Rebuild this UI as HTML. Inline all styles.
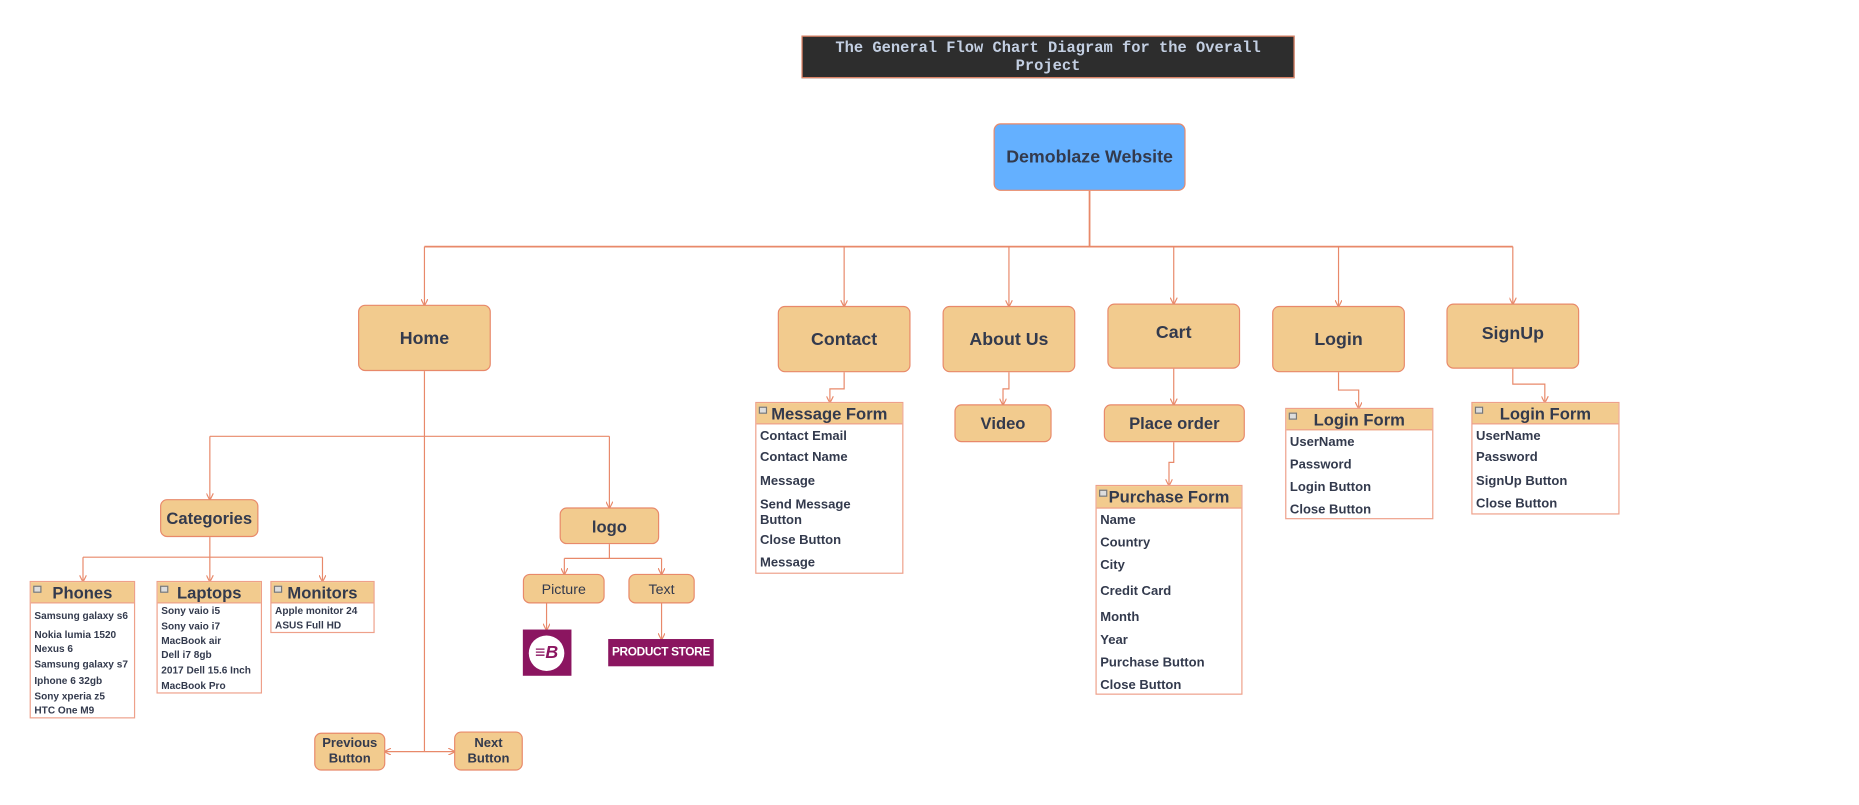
<!DOCTYPE html>
<html><head><meta charset="utf-8"><style>
html,body{margin:0;padding:0;background:#fff;width:1859px;height:805px;overflow:hidden}
#w{position:absolute;left:0;top:0;width:1568px;height:679px;transform:scale(1.18559,1.18557);transform-origin:0 0;font-family:"Liberation Sans",Arial,sans-serif;color:#333a4d}
.b{position:absolute;box-sizing:border-box;background:#f2cb8e;border:1px solid #e8896a;border-radius:6px;display:flex;align-items:center;justify-content:center;text-align:center;font-weight:bold}
.t{position:absolute;box-sizing:border-box;background:#fff;border:1px solid #eea08a}
.t .h{position:absolute;left:0;right:0;top:0;background:#f2cb8e;border-bottom:1px solid #eea08a;font-weight:bold;text-align:center;box-sizing:border-box}
.t .h i{position:absolute;left:2px;top:3px;width:5px;height:4px;border:1px solid #777;background:#ddd}
.r{position:absolute;left:3px;white-space:nowrap;font-weight:bold;line-height:1}
svg{position:absolute;left:0;top:0}
</style></head><body><div id="w">
<svg width="1568" height="679" fill="none" stroke="#e8896a" stroke-width="1">
<defs><marker id="a" markerWidth="6" markerHeight="6" refX="5" refY="3" orient="auto"><path d="M0,0 L6,3 L0,6" stroke="#e8896a" fill="none"/></marker></defs>
<path d="M919 161V208M358 208H1276" stroke-width="1.5"/>
<path d="M358 208V257" marker-end="url(#a)"/><path d="M712 208V258" marker-end="url(#a)"/><path d="M851 208V258" marker-end="url(#a)"/><path d="M990 208V256" marker-end="url(#a)"/><path d="M1129 208V258" marker-end="url(#a)"/><path d="M1276 208V256" marker-end="url(#a)"/>
<path d="M358 313V634"/>
<path d="M358 634H325" marker-end="url(#a)"/><path d="M358 634H383" marker-end="url(#a)"/>
<path d="M177 368H514"/><path d="M177 368V421" marker-end="url(#a)"/><path d="M514 368V428" marker-end="url(#a)"/>
<path d="M177 453V470M70 470H272"/>
<path d="M70 470V490" marker-end="url(#a)"/><path d="M177 470V490" marker-end="url(#a)"/><path d="M272 470V490" marker-end="url(#a)"/>
<path d="M514 459V471M476 471H558"/><path d="M476 471V484" marker-end="url(#a)"/><path d="M558 471V484" marker-end="url(#a)"/>
<path d="M461 509V531" marker-end="url(#a)"/><path d="M558 509V539" marker-end="url(#a)"/>
<path d="M712 314V328H700V339" marker-end="url(#a)"/>
<path d="M851 314V328H846V341" marker-end="url(#a)"/>
<path d="M990 311V341" marker-end="url(#a)"/>
<path d="M990 373V390H986V409" marker-end="url(#a)"/>
<path d="M1129 314V329H1146V344" marker-end="url(#a)"/>
<path d="M1276 311V324H1303V339" marker-end="url(#a)"/>
</svg>
<div style="position:absolute;left:676px;top:30px;width:416px;height:36px;box-sizing:border-box;background:#2d2d2d;border:1px solid #e8896a;color:#c3cfe2;font:bold 13px/15px 'Liberation Mono',monospace;text-align:center;padding-top:2px">The General Flow Chart Diagram for the Overall<br>Project</div>
<div class="b" style="left:838px;top:104px;width:162px;height:57px;background:#64b0ff;font-size:15px">Demoblaze Website</div>
<div class="b" style="left:302px;top:257px;width:112px;height:56px;font-size:15px">Home</div>
<div class="b" style="left:656px;top:258px;width:112px;height:56px;font-size:15px">Contact</div>
<div class="b" style="left:795px;top:258px;width:112px;height:56px;font-size:15px">About Us</div>
<div class="b" style="left:934px;top:256px;width:112px;height:55px;font-size:15px;padding-bottom:6px">Cart</div>
<div class="b" style="left:1073px;top:258px;width:112px;height:56px;font-size:15px">Login</div>
<div class="b" style="left:1220px;top:256px;width:112px;height:55px;font-size:15px;padding-bottom:4px">SignUp</div>
<div class="b" style="left:135px;top:421px;width:83px;height:32px;font-size:14px">Categories</div>
<div class="b" style="left:472px;top:428px;width:84px;height:31px;font-size:14px">logo</div>
<div class="b" style="left:441px;top:484px;width:69px;height:25px;font-size:12px;font-weight:normal">Picture</div>
<div class="b" style="left:530px;top:484px;width:56px;height:25px;font-size:12px;font-weight:normal">Text</div>
<div style="position:absolute;left:441px;top:531px;width:41px;height:39px;background:#8b1560"><div style="position:absolute;left:5px;top:5px;width:30px;height:30px;border-radius:50%;background:#fff;color:#8b1560;font:italic bold 15px/30px 'Liberation Sans',sans-serif;text-align:center">≡B</div></div>
<div style="position:absolute;left:513px;top:539px;width:89px;height:23px;background:#8b1560;color:#fff;font:bold 10px/23px 'Liberation Sans',sans-serif;text-align:center;letter-spacing:-0.3px">PRODUCT STORE</div>
<div class="b" style="left:265px;top:618px;width:60px;height:32px;font-size:11px;line-height:13px">Previous<br>Button</div>
<div class="b" style="left:383px;top:617px;width:58px;height:33px;font-size:11px;line-height:13px">Next<br>Button</div>
<div class="b" style="left:805px;top:341px;width:82px;height:32px;font-size:14px">Video</div>
<div class="b" style="left:931px;top:341px;width:119px;height:32px;font-size:14px">Place order</div>

<div class="t" style="left:25px;top:490px;width:89px;height:116px;font-size:8.5px"><div class="h" style="height:18px;font-size:14px;line-height:18px"><i></i>Phones</div>
<div class="r" style="top:24px">Samsung galaxy s6</div><div class="r" style="top:40px">Nokia lumia 1520</div><div class="r" style="top:52px">Nexus 6</div><div class="r" style="top:65px">Samsung galaxy s7</div><div class="r" style="top:79px">Iphone 6 32gb</div><div class="r" style="top:92px">Sony xperia z5</div><div class="r" style="top:104px">HTC One M9</div></div>
<div class="t" style="left:132px;top:490px;width:89px;height:95px;font-size:8.5px"><div class="h" style="height:18px;font-size:14px;line-height:18px"><i></i>Laptops</div>
<div class="r" style="top:20px">Sony vaio i5</div><div class="r" style="top:33px">Sony vaio i7</div><div class="r" style="top:45px">MacBook air</div><div class="r" style="top:57px">Dell i7 8gb</div><div class="r" style="top:70px">2017 Dell 15.6 Inch</div><div class="r" style="top:83px">MacBook Pro</div></div>
<div class="t" style="left:228px;top:490px;width:88px;height:44px;font-size:8.5px"><div class="h" style="height:18px;font-size:14px;line-height:18px"><i></i>Monitors</div>
<div class="r" style="top:20px">Apple monitor 24</div><div class="r" style="top:32px">ASUS Full HD</div></div>

<div class="t" style="left:637px;top:339px;width:125px;height:145px;font-size:11px"><div class="h" style="height:18px;font-size:14px;line-height:18px"><i></i>Message Form</div>
<div class="r" style="top:23px">Contact Email</div><div class="r" style="top:41px">Contact Name</div><div class="r" style="top:61px">Message</div><div class="r" style="top:80px;line-height:13px">Send Message<br>Button</div><div class="r" style="top:111px">Close Button</div><div class="r" style="top:130px">Message</div></div>
<div class="t" style="left:924px;top:409px;width:124px;height:177px;font-size:11px"><div class="h" style="height:19px;font-size:14px;line-height:19px"><i></i>Purchase Form</div>
<div class="r" style="top:24px">Name</div><div class="r" style="top:43px">Country</div><div class="r" style="top:62px">City</div><div class="r" style="top:84px">Credit Card</div><div class="r" style="top:106px">Month</div><div class="r" style="top:125px">Year</div><div class="r" style="top:144px">Purchase Button</div><div class="r" style="top:163px">Close Button</div></div>
<div class="t" style="left:1084px;top:344px;width:125px;height:94px;font-size:11px"><div class="h" style="height:18px;font-size:14px;line-height:18px"><i></i>Login Form</div>
<div class="r" style="top:23px">UserName</div><div class="r" style="top:42px">Password</div><div class="r" style="top:61px">Login Button</div><div class="r" style="top:80px">Close Button</div></div>
<div class="t" style="left:1241px;top:339px;width:125px;height:95px;font-size:11px"><div class="h" style="height:18px;font-size:14px;line-height:18px"><i></i>Login Form</div>
<div class="r" style="top:23px">UserName</div><div class="r" style="top:41px">Password</div><div class="r" style="top:61px">SignUp Button</div><div class="r" style="top:80px">Close Button</div></div>
</div></body></html>
